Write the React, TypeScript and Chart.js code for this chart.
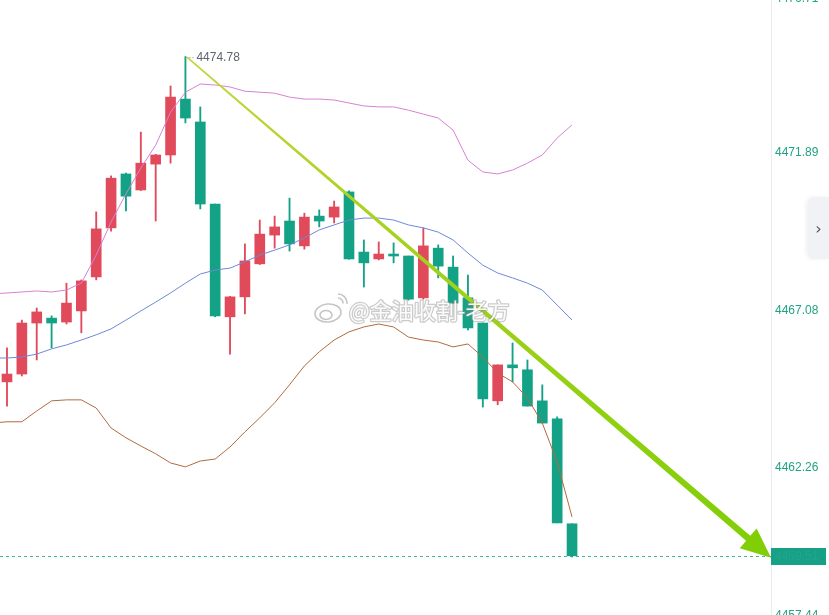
import React, { useEffect, useRef } from "react";
import { Chart, registerables } from "chart.js";

Chart.register(...registerables);

// ---- candles (index 0..38) ----
const opens = [4464.83, 4465.07, 4466.63, 4466.78, 4466.66, 4467.0, 4468.04, 4469.54, 4471.19, 4470.7, 4471.49, 4471.77, 4473.48, 4472.78, 4470.27, 4466.82, 4467.43, 4468.44, 4469.32, 4469.75, 4468.99, 4469.9, 4469.87, 4470.64, 4468.8, 4468.59, 4468.74, 4468.68, 4467.4, 4468.92, 4468.34, 4467.4, 4466.63, 4464.25, 4465.35, 4465.2, 4464.25, 4463.7, 4460.49];
const closes = [4465.07, 4466.63, 4466.97, 4466.63, 4467.24, 4467.92, 4469.51, 4471.06, 4470.51, 4471.52, 4471.77, 4473.54, 4472.9, 4470.27, 4466.85, 4467.43, 4468.53, 4469.35, 4469.57, 4469.05, 4469.87, 4469.75, 4470.18, 4468.59, 4468.47, 4468.74, 4468.68, 4467.36, 4468.99, 4468.37, 4467.24, 4466.48, 4464.31, 4465.35, 4465.26, 4464.09, 4463.57, 4460.52, 4459.51];
const highs = [4465.87, 4466.72, 4467.09, 4466.85, 4467.85, 4467.95, 4470.03, 4471.13, 4471.22, 4472.47, 4471.79, 4473.88, 4474.78, 4473.24, 4470.27, 4467.45, 4469.05, 4469.78, 4469.9, 4470.45, 4469.99, 4470.09, 4470.36, 4470.67, 4469.17, 4469.11, 4469.08, 4468.68, 4469.54, 4469.02, 4468.68, 4468.1, 4466.63, 4465.35, 4466.02, 4465.5, 4464.74, 4463.76, 4460.49];
const lows = [4464.09, 4465.01, 4465.5, 4465.87, 4466.6, 4466.33, 4467.95, 4469.44, 4470.06, 4470.68, 4469.75, 4471.52, 4472.75, 4470.12, 4466.82, 4465.68, 4466.91, 4468.42, 4468.92, 4468.83, 4468.89, 4469.57, 4469.69, 4468.58, 4467.73, 4468.56, 4468.47, 4467.33, 4467.36, 4468.01, 4467.24, 4466.42, 4464.06, 4464.13, 4464.83, 4464.09, 4463.57, 4460.52, 4459.48];

// ---- Bollinger bands (index -1..38) ----
const bandStart = -1;
const upperBand = [4467.52, 4467.55, 4467.58, 4467.61, 4467.58, 4467.64, 4467.85, 4468.71, 4469.72, 4470.58, 4471.37, 4472.07, 4473.08, 4473.69, 4473.94, 4473.91, 4473.85, 4473.72, 4473.69, 4473.66, 4473.54, 4473.48, 4473.48, 4473.45, 4473.36, 4473.27, 4473.24, 4473.24, 4473.14, 4473.02, 4472.9, 4472.53, 4471.61, 4471.25, 4471.19, 4471.31, 4471.52, 4471.77, 4472.29, 4472.69];
const middleBand = [4465.56, 4465.56, 4465.59, 4465.68, 4465.84, 4465.96, 4466.11, 4466.27, 4466.45, 4466.72, 4467.0, 4467.27, 4467.55, 4467.85, 4468.13, 4468.25, 4468.31, 4468.5, 4468.71, 4468.86, 4469.02, 4469.23, 4469.48, 4469.63, 4469.78, 4469.84, 4469.84, 4469.78, 4469.63, 4469.54, 4469.41, 4469.17, 4468.77, 4468.4, 4468.16, 4468.01, 4467.85, 4467.64, 4467.18, 4466.72];
const lowerBand = [4463.57, 4463.61, 4463.61, 4463.94, 4464.25, 4464.28, 4464.28, 4464.03, 4463.42, 4463.12, 4462.87, 4462.63, 4462.35, 4462.23, 4462.41, 4462.47, 4462.84, 4463.3, 4463.73, 4464.19, 4464.74, 4465.32, 4465.75, 4466.11, 4466.36, 4466.51, 4466.6, 4466.51, 4466.2, 4466.11, 4466.05, 4465.9, 4465.99, 4465.59, 4465.1, 4464.83, 4464.34, 4463.57, 4462.38, 4460.7];

// ---- axis / annotations ----
const yTickLabels = [4476.71, 4471.89, 4467.08, 4462.26, 4457.44];
const highIndex = 12;
const highLabel = 4474.78;
const lastPrice = 4459.51;
const arrowX = [12.1, 51.38];
const arrowY = [4474.76, 4459.45];
const watermarkText = "@金油收割-老方";

const X_MIN = -0.47;
const X_MAX = 51.38;
const Y_MIN = 4457.7;
const Y_MAX = 4476.51;

const UP = "#e04a5b";
const DOWN = "#13a285";
const AXIS_TEXT = "#1fa384";

const overlay = {
  id: "overlay",
  afterDatasetsDraw(chart: any) {
    const ctx = chart.ctx;
    const xs = chart.scales.x;
    const ys = chart.scales.y;
    const area = chart.chartArea;

    // last price dashed line
    const lp = ys.getPixelForValue(lastPrice);
    ctx.save();
    ctx.strokeStyle = "rgba(19,162,133,0.8)";
    ctx.lineWidth = 1;
    ctx.setLineDash([3, 3]);
    ctx.beginPath();
    ctx.moveTo(area.left, Math.round(lp) + 0.5);
    ctx.lineTo(area.right, Math.round(lp) + 0.5);
    ctx.stroke();
    ctx.restore();

    // high marker
    const hx = xs.getPixelForValue(highIndex);
    const hy = ys.getPixelForValue(highLabel);
    ctx.save();
    ctx.strokeStyle = "#8a8f99";
    ctx.lineWidth = 1;
    ctx.setLineDash([1, 2]);
    ctx.beginPath();
    ctx.moveTo(hx + 1, Math.round(hy) + 0.5);
    ctx.lineTo(hx + 10, Math.round(hy) + 0.5);
    ctx.stroke();
    ctx.setLineDash([]);
    ctx.fillStyle = "#5f6470";
    ctx.font = '12px "Liberation Sans", Arial, sans-serif';
    ctx.textBaseline = "middle";
    ctx.fillText(highLabel.toFixed(2), hx + 11, hy + 1);
    ctx.restore();

    // arrow
    const x0 = xs.getPixelForValue(arrowX[0]);
    const y0 = ys.getPixelForValue(arrowY[0]);
    const x1 = xs.getPixelForValue(arrowX[1]);
    const y1 = ys.getPixelForValue(arrowY[1]);
    const dx = x1 - x0, dy = y1 - y0;
    const len = Math.sqrt(dx * dx + dy * dy);
    const ux = dx / len, uy = dy / len;
    const px = -uy, py = ux;
    const headLen = 30, headHalf = 13;
    const bx = x1 - ux * headLen, by = y1 - uy * headLen;
    const w0 = 0.8, w1 = 3.2;
    ctx.save();
    const grad = ctx.createLinearGradient(x0, y0, x1, y1);
    grad.addColorStop(0, "#c4d63c");
    grad.addColorStop(0.35, "#a6d21e");
    grad.addColorStop(1, "#7fce06");
    ctx.fillStyle = grad;
    ctx.beginPath();
    ctx.moveTo(x0 + px * w0, y0 + py * w0);
    ctx.lineTo(bx + px * w1, by + py * w1);
    ctx.lineTo(bx + px * headHalf, by + py * headHalf);
    ctx.lineTo(x1, y1);
    ctx.lineTo(bx - px * headHalf, by - py * headHalf);
    ctx.lineTo(bx - px * w1, by - py * w1);
    ctx.lineTo(x0 - px * w0, y0 - py * w0);
    ctx.closePath();
    ctx.fill();
    ctx.restore();

    // watermark
    ctx.save();
    const wx = 330, wy = 312;
    ctx.lineWidth = 1.6;
    ctx.strokeStyle = "rgba(150,150,150,0.55)";
    ctx.fillStyle = "rgba(255,255,255,0.85)";
    ctx.beginPath();
    ctx.ellipse(wx - 2, wy + 1, 13, 9, -0.1, 0, Math.PI * 2);
    ctx.fill();
    ctx.stroke();
    ctx.beginPath();
    ctx.ellipse(wx - 4, wy + 3, 6, 4.5, 0, 0, Math.PI * 2);
    ctx.stroke();
    ctx.beginPath();
    ctx.arc(wx + 8, wy - 9, 5, -Math.PI / 2, 0.1);
    ctx.stroke();
    ctx.beginPath();
    ctx.arc(wx + 8, wy - 9, 9, -Math.PI / 2, 0.1);
    ctx.stroke();
    ctx.font = '22px "Noto Sans CJK SC", sans-serif';
    ctx.textBaseline = "middle";
    ctx.lineWidth = 2.5;
    ctx.lineJoin = "round";
    ctx.strokeStyle = "rgba(140,140,140,0.45)";
    ctx.strokeText(watermarkText, 349, 311);
    ctx.fillStyle = "rgba(255,255,255,0.92)";
    ctx.fillText(watermarkText, 349, 311);
    ctx.restore();
  },
  afterDraw(chart: any) {
    const ctx = chart.ctx;
    const ys = chart.scales.y;
    const area = chart.chartArea;
    ctx.save();
    // axis line
    ctx.strokeStyle = "#e9ebef";
    ctx.lineWidth = 1;
    ctx.beginPath();
    ctx.moveTo(Math.round(area.right) + 0.5, 0);
    ctx.lineTo(Math.round(area.right) + 0.5, chart.height);
    ctx.stroke();
    // tick labels
    ctx.font = '12px "Liberation Sans", Arial, sans-serif';
    ctx.textBaseline = "middle";
    ctx.fillStyle = AXIS_TEXT;
    yTickLabels.forEach((v) => {
      let p = ys.getPixelForValue(v) + 2;
      p = Math.max(-1, Math.min(chart.height + 1, p));
      ctx.fillText(v.toFixed(2), area.right + 4, p);
    });
    // last price box
    const lp = ys.getPixelForValue(lastPrice);
    ctx.fillStyle = "#16a085";
    ctx.fillRect(area.right, Math.round(lp) - 8, 55, 17);
    ctx.fillStyle = "rgba(255,255,255,0.05)";
    ctx.fillText(lastPrice.toFixed(2), area.right + 4, lp + 1);
    ctx.restore();
  },
};

export default function App() {
  const ref = useRef<HTMLCanvasElement | null>(null);

  useEffect(() => {
    if (!ref.current) return;
    const colors = opens.map((o, i) => (closes[i] >= o ? UP : DOWN));
    const chart = new Chart(ref.current, {
      type: "bar",
      data: {
        datasets: [
          {
            type: "line",
            label: "upper",
            data: upperBand.map((v, i) => ({ x: i + bandStart, y: v })),
            borderColor: "#d880d6",
            borderWidth: 1,
            pointRadius: 0,
            tension: 0,
            order: 1,
          } as any,
          {
            type: "line",
            label: "middle",
            data: middleBand.map((v, i) => ({ x: i + bandStart, y: v })),
            borderColor: "#6f87d8",
            borderWidth: 1,
            pointRadius: 0,
            tension: 0,
            order: 1,
          } as any,
          {
            type: "line",
            label: "lower",
            data: lowerBand.map((v, i) => ({ x: i + bandStart, y: v })),
            borderColor: "#b26a40",
            borderWidth: 1,
            pointRadius: 0,
            tension: 0,
            order: 1,
          } as any,
          {
            type: "bar",
            label: "body",
            data: opens.map((o, i) => ({ x: i, y: [o, closes[i]] })),
            backgroundColor: colors,
            borderWidth: 0,
            barThickness: 10,
            grouped: false,
            order: 2,
          } as any,
          {
            type: "bar",
            label: "wick",
            data: lows.map((l, i) => ({ x: i, y: [l, highs[i]] })),
            backgroundColor: colors,
            borderWidth: 0,
            barThickness: 1.2,
            grouped: false,
            order: 3,
          } as any,
        ],
      },
      options: {
        animation: false,
        responsive: true,
        maintainAspectRatio: false,
        layout: { padding: { left: 0, right: 58, top: 0, bottom: 0 } },
        plugins: { legend: { display: false }, tooltip: { enabled: false } },
        scales: {
          x: { type: "linear", min: X_MIN, max: X_MAX, display: false, offset: false },
          y: { type: "linear", min: Y_MIN, max: Y_MAX, display: false },
        },
      } as any,
      plugins: [overlay],
    });
    return () => chart.destroy();
  }, []);

  return (
    <div style={{ position: "fixed", left: 0, top: 0, width: 829, height: 615, background: "#fff", overflow: "hidden" }}>
      <canvas ref={ref} />
      <div
        style={{
          position: "absolute",
          left: 808,
          top: 197,
          width: 21,
          height: 62,
          background: "#f1f2f5",
          borderRadius: "6px 0 0 6px",
          boxShadow: "-2px 0 4px rgba(0,0,0,0.06)",
          color: "#555",
          fontFamily: "DejaVu Sans, sans-serif",
          fontSize: 16,
          display: "flex",
          alignItems: "center",
          justifyContent: "center",
        }}
      >
        ›
      </div>
    </div>
  );
}
